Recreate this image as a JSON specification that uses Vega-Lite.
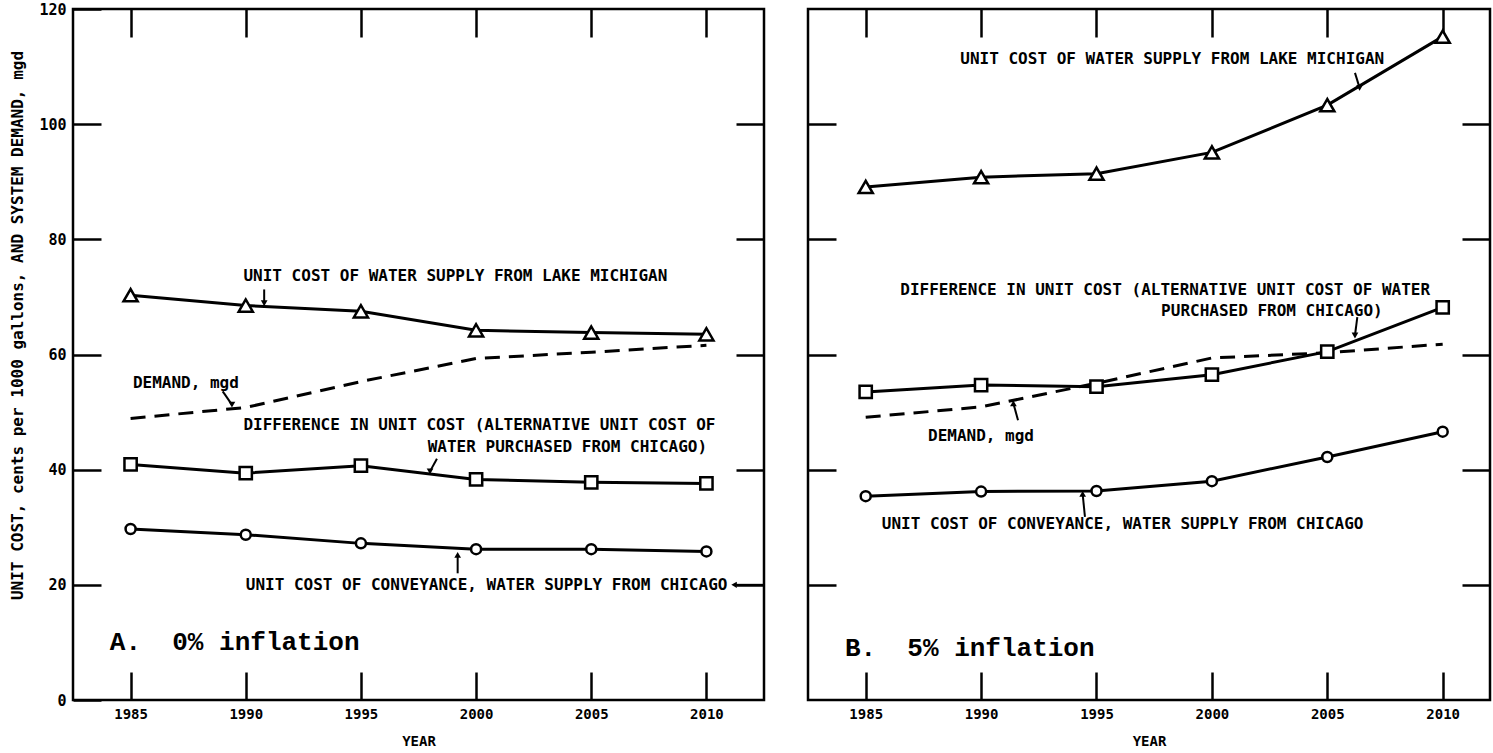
{
  "$schema": "https://vega.github.io/schema/vega-lite/v6.json",
  "background": "white",
  "padding": {"left": 8, "top": 0, "right": 0, "bottom": 0},
  "spacing": 38,
  "config": {
    "view": {"stroke": "black", "strokeWidth": 2.5},
    "axis": {
      "domain": false, "grid": false, "tickColor": "black", "tickWidth": 2.5,
      "labelColor": "black", "labelFont": "DejaVu Sans Mono", "labelFontWeight": "bold", "labelFontSize": 14,
      "titleColor": "black", "titleFont": "DejaVu Sans Mono", "titleFontWeight": "bold", "titleFontSize": 14,
      "minExtent": 0
    }
  },
  "datasets": {
    "A": [
      {"year": 1985, "value": 70.3, "series": "lake"}, {"year": 1990, "value": 68.5, "series": "lake"}, {"year": 1995, "value": 67.5, "series": "lake"}, {"year": 2000, "value": 64.2, "series": "lake"}, {"year": 2005, "value": 63.8, "series": "lake"}, {"year": 2010, "value": 63.5, "series": "lake"},
      {"year": 1985, "value": 40.9, "series": "diff"}, {"year": 1990, "value": 39.4, "series": "diff"}, {"year": 1995, "value": 40.7, "series": "diff"}, {"year": 2000, "value": 38.3, "series": "diff"}, {"year": 2005, "value": 37.8, "series": "diff"}, {"year": 2010, "value": 37.6, "series": "diff"},
      {"year": 1985, "value": 29.7, "series": "conv"}, {"year": 1990, "value": 28.7, "series": "conv"}, {"year": 1995, "value": 27.2, "series": "conv"}, {"year": 2000, "value": 26.2, "series": "conv"}, {"year": 2005, "value": 26.2, "series": "conv"}, {"year": 2010, "value": 25.8, "series": "conv"},
      {"year": 1985, "value": 48.9, "series": "demand"}, {"year": 1990, "value": 50.8, "series": "demand"}, {"year": 1995, "value": 55.3, "series": "demand"}, {"year": 2000, "value": 59.3, "series": "demand"}, {"year": 2005, "value": 60.4, "series": "demand"}, {"year": 2010, "value": 61.6, "series": "demand"}
    ],
    "B": [
      {"year": 1985, "value": 89.1, "series": "lake"}, {"year": 1990, "value": 90.8, "series": "lake"}, {"year": 1995, "value": 91.4, "series": "lake"}, {"year": 2000, "value": 95.1, "series": "lake"}, {"year": 2005, "value": 103.3, "series": "lake"}, {"year": 2010, "value": 115.2, "series": "lake"},
      {"year": 1985, "value": 53.5, "series": "diff"}, {"year": 1990, "value": 54.7, "series": "diff"}, {"year": 1995, "value": 54.4, "series": "diff"}, {"year": 2000, "value": 56.5, "series": "diff"}, {"year": 2005, "value": 60.5, "series": "diff"}, {"year": 2010, "value": 68.2, "series": "diff"},
      {"year": 1985, "value": 35.4, "series": "conv"}, {"year": 1990, "value": 36.2, "series": "conv"}, {"year": 1995, "value": 36.3, "series": "conv"}, {"year": 2000, "value": 38.0, "series": "conv"}, {"year": 2005, "value": 42.2, "series": "conv"}, {"year": 2010, "value": 46.6, "series": "conv"},
      {"year": 1985, "value": 49.1, "series": "demand"}, {"year": 1990, "value": 50.9, "series": "demand"}, {"year": 1995, "value": 55.0, "series": "demand"}, {"year": 2000, "value": 59.4, "series": "demand"}, {"year": 2005, "value": 60.3, "series": "demand"}, {"year": 2010, "value": 61.8, "series": "demand"}
    ],
    "A_notes": [
      {"year": 1989.9, "value": 73.6, "label": "UNIT COST OF WATER SUPPLY FROM LAKE MICHIGAN"},
      {"year": 1985.1, "value": 55.0, "label": "DEMAND, mgd"},
      {"year": 1989.9, "value": 47.8, "label": "DIFFERENCE IN UNIT COST (ALTERNATIVE UNIT COST OF"},
      {"year": 1997.9, "value": 44.0, "label": "WATER PURCHASED FROM CHICAGO)"},
      {"year": 1990.0, "value": 20.0, "label": "UNIT COST OF CONVEYANCE, WATER SUPPLY FROM CHICAGO"}
    ],
    "B_notes": [
      {"year": 1989.1, "value": 111.3, "label": "UNIT COST OF WATER SUPPLY FROM LAKE MICHIGAN"},
      {"year": 1986.5, "value": 71.2, "label": "DIFFERENCE IN UNIT COST (ALTERNATIVE UNIT COST OF WATER"},
      {"year": 1997.8, "value": 67.6, "label": "PURCHASED FROM CHICAGO)"},
      {"year": 1987.7, "value": 45.9, "label": "DEMAND, mgd"},
      {"year": 1985.7, "value": 30.5, "label": "UNIT COST OF CONVEYANCE, WATER SUPPLY FROM CHICAGO"}
    ],
    "A_title": [{"year": 1984.1, "value": 10.0, "label": "A.\u00a0\u00a00% inflation"}],
    "B_title": [{"year": 1984.1, "value": 9.0, "label": "B.\u00a0\u00a05% inflation"}],
    "A_arrows": [
      {"year": 1990.8, "value": 71.3, "year2": 1990.8, "value2": 68.9},
      {"year": 1989.0, "value": 53.6, "year2": 1989.4, "value2": 51.3},
      {"year": 1998.3, "value": 41.9, "year2": 1998.0, "value2": 39.7},
      {"year": 1999.2, "value": 22.0, "year2": 1999.2, "value2": 25.2},
      {"year": 2012.5, "value": 20.0, "year2": 2011.2, "value2": 20.0}
    ],
    "B_arrows": [
      {"year": 2006.2, "value": 108.9, "year2": 2006.4, "value2": 106.3},
      {"year": 2006.3, "value": 66.5, "year2": 2006.2, "value2": 63.3},
      {"year": 1991.6, "value": 48.6, "year2": 1991.4, "value2": 51.5},
      {"year": 1994.5, "value": 31.8, "year2": 1994.4, "value2": 35.8}
    ]
  },
  "hconcat": [
    {
      "width": 691, "height": 691,
      "data": {"name": "A"},
      "layer": [
        {
          "layer": [
            {
              "transform": [{"filter": "datum.series != 'demand'"}],
              "mark": {"type": "line", "color": "black", "strokeWidth": 3},
              "encoding": {
                "x": {"field": "year", "type": "quantitative", "scale": {"domain": [1982.5, 2012.5], "nice": false, "zero": false},
                      "axis": {"orient": "bottom", "values": [1985, 1990, 1995, 2000, 2005, 2010], "format": "d", "tickSize": -28, "labelPadding": 35, "title": "YEAR", "titlePadding": 13}},
                "y": {"field": "value", "type": "quantitative", "scale": {"domain": [0, 120], "nice": false},
                      "axis": {"orient": "left", "values": [0, 20, 40, 60, 80, 100, 120], "tickSize": -28, "labelPadding": 35, "labelFontSize": 15, "title": "UNIT COST, cents per 1000 gallons, AND SYSTEM DEMAND, mgd", "titleFontSize": 16, "titlePadding": 13, "titleY": 316}},
                "detail": {"field": "series"}
              }
            },
            {
              "transform": [{"filter": "datum.series == 'demand'"}],
              "mark": {"type": "line", "color": "black", "strokeWidth": 3, "strokeDash": [15, 9]},
              "encoding": {
                "x": {"field": "year", "type": "quantitative"},
                "y": {"field": "value", "type": "quantitative"}
              }
            },
            {
              "transform": [{"filter": "datum.series != 'demand'"}],
              "mark": {"type": "point", "filled": true, "fill": "white", "stroke": "black", "strokeWidth": 2.5, "opacity": 1},
              "encoding": {
                "x": {"field": "year", "type": "quantitative"},
                "y": {"field": "value", "type": "quantitative"},
                "shape": {"field": "series", "type": "nominal", "scale": {"domain": ["lake", "diff", "conv"], "range": ["triangle-up", "square", "circle"]}, "legend": null},
                "size": {"field": "series", "type": "nominal", "scale": {"domain": ["lake", "diff", "conv"], "range": [200, 100, 100]}, "legend": null}
              }
            },
            {
              "data": {"name": "A_notes"},
              "mark": {"type": "text", "align": "left", "baseline": "middle", "font": "DejaVu Sans Mono", "fontSize": 16, "fontWeight": "bold", "color": "black"},
              "encoding": {
                "x": {"field": "year", "type": "quantitative"},
                "y": {"field": "value", "type": "quantitative"},
                "text": {"field": "label"}
              }
            },
            {
              "data": {"name": "A_title"},
              "mark": {"type": "text", "align": "left", "baseline": "middle", "font": "Liberation Mono", "fontSize": 26, "fontWeight": "bold", "color": "black"},
              "encoding": {
                "x": {"field": "year", "type": "quantitative"},
                "y": {"field": "value", "type": "quantitative"},
                "text": {"field": "label"}
              }
            },
            {
              "data": {"name": "A_arrows"},
              "mark": {"type": "rule", "color": "black", "strokeWidth": 2},
              "encoding": {
                "x": {"field": "year", "type": "quantitative"},
                "y": {"field": "value", "type": "quantitative"},
                "x2": {"field": "year2"},
                "y2": {"field": "value2"}
              }
            },
            {
              "data": {"name": "A_arrows"},
              "transform": [{"filter": "datum.value2 < datum.value"}],
              "mark": {"type": "point", "shape": "triangle-down", "filled": true, "color": "black", "size": 45, "opacity": 1},
              "encoding": {
                "x": {"field": "year2", "type": "quantitative"},
                "y": {"field": "value2", "type": "quantitative"}
              }
            },
            {
              "data": {"name": "A_arrows"},
              "transform": [{"filter": "datum.value2 > datum.value"}],
              "mark": {"type": "point", "shape": "triangle-up", "filled": true, "color": "black", "size": 45, "opacity": 1},
              "encoding": {
                "x": {"field": "year2", "type": "quantitative"},
                "y": {"field": "value2", "type": "quantitative"}
              }
            },
            {
              "data": {"name": "A_arrows"},
              "transform": [{"filter": "datum.value2 == datum.value && datum.year2 < datum.year"}],
              "mark": {"type": "point", "shape": "triangle-left", "filled": true, "color": "black", "size": 40, "opacity": 1},
              "encoding": {
                "x": {"field": "year2", "type": "quantitative"},
                "y": {"field": "value2", "type": "quantitative"}
              }
            }
          ]
        },
        {
          "mark": {"type": "point", "opacity": 0},
          "encoding": {
            "x": {"field": "year", "type": "quantitative", "axis": {"orient": "top", "values": [1985, 1990, 1995, 2000, 2005, 2010], "tickSize": -28, "labels": false, "title": null}},
            "y": {"field": "value", "type": "quantitative", "axis": {"orient": "right", "values": [20, 40, 60, 80, 100], "tickSize": -28, "labels": false, "title": null}}
          }
        }
      ],
      "resolve": {"axis": {"x": "independent", "y": "independent"}}
    },
    {
      "width": 682, "height": 691,
      "data": {"name": "B"},
      "layer": [
        {
          "layer": [
            {
              "transform": [{"filter": "datum.series != 'demand'"}],
              "mark": {"type": "line", "color": "black", "strokeWidth": 3},
              "encoding": {
                "x": {"field": "year", "type": "quantitative", "scale": {"domain": [1982.5, 2012.05], "nice": false, "zero": false},
                      "axis": {"orient": "bottom", "values": [1985, 1990, 1995, 2000, 2005, 2010], "format": "d", "tickSize": -28, "labelPadding": 35, "title": "YEAR", "titlePadding": 13}},
                "y": {"field": "value", "type": "quantitative", "scale": {"domain": [0, 120], "nice": false},
                      "axis": {"orient": "left", "values": [20, 40, 60, 80, 100], "tickSize": -28, "labels": false, "title": null}},
                "detail": {"field": "series"}
              }
            },
            {
              "transform": [{"filter": "datum.series == 'demand'"}],
              "mark": {"type": "line", "color": "black", "strokeWidth": 3, "strokeDash": [15, 9]},
              "encoding": {
                "x": {"field": "year", "type": "quantitative"},
                "y": {"field": "value", "type": "quantitative"}
              }
            },
            {
              "transform": [{"filter": "datum.series != 'demand'"}],
              "mark": {"type": "point", "filled": true, "fill": "white", "stroke": "black", "strokeWidth": 2.5, "opacity": 1},
              "encoding": {
                "x": {"field": "year", "type": "quantitative"},
                "y": {"field": "value", "type": "quantitative"},
                "shape": {"field": "series", "type": "nominal", "scale": {"domain": ["lake", "diff", "conv"], "range": ["triangle-up", "square", "circle"]}, "legend": null},
                "size": {"field": "series", "type": "nominal", "scale": {"domain": ["lake", "diff", "conv"], "range": [200, 100, 100]}, "legend": null}
              }
            },
            {
              "data": {"name": "B_notes"},
              "mark": {"type": "text", "align": "left", "baseline": "middle", "font": "DejaVu Sans Mono", "fontSize": 16, "fontWeight": "bold", "color": "black"},
              "encoding": {
                "x": {"field": "year", "type": "quantitative"},
                "y": {"field": "value", "type": "quantitative"},
                "text": {"field": "label"}
              }
            },
            {
              "data": {"name": "B_title"},
              "mark": {"type": "text", "align": "left", "baseline": "middle", "font": "Liberation Mono", "fontSize": 26, "fontWeight": "bold", "color": "black"},
              "encoding": {
                "x": {"field": "year", "type": "quantitative"},
                "y": {"field": "value", "type": "quantitative"},
                "text": {"field": "label"}
              }
            },
            {
              "data": {"name": "B_arrows"},
              "mark": {"type": "rule", "color": "black", "strokeWidth": 2},
              "encoding": {
                "x": {"field": "year", "type": "quantitative"},
                "y": {"field": "value", "type": "quantitative"},
                "x2": {"field": "year2"},
                "y2": {"field": "value2"}
              }
            },
            {
              "data": {"name": "B_arrows"},
              "transform": [{"filter": "datum.value2 < datum.value"}],
              "mark": {"type": "point", "shape": "triangle-down", "filled": true, "color": "black", "size": 45, "opacity": 1},
              "encoding": {
                "x": {"field": "year2", "type": "quantitative"},
                "y": {"field": "value2", "type": "quantitative"}
              }
            },
            {
              "data": {"name": "B_arrows"},
              "transform": [{"filter": "datum.value2 > datum.value"}],
              "mark": {"type": "point", "shape": "triangle-up", "filled": true, "color": "black", "size": 45, "opacity": 1},
              "encoding": {
                "x": {"field": "year2", "type": "quantitative"},
                "y": {"field": "value2", "type": "quantitative"}
              }
            }
          ]
        },
        {
          "mark": {"type": "point", "opacity": 0},
          "encoding": {
            "x": {"field": "year", "type": "quantitative", "axis": {"orient": "top", "values": [1985, 1990, 1995, 2000, 2005, 2010], "tickSize": -28, "labels": false, "title": null}},
            "y": {"field": "value", "type": "quantitative", "axis": {"orient": "right", "values": [20, 40, 60, 80, 100], "tickSize": -28, "labels": false, "title": null}}
          }
        }
      ],
      "resolve": {"axis": {"x": "independent", "y": "independent"}}
    }
  ]
}
